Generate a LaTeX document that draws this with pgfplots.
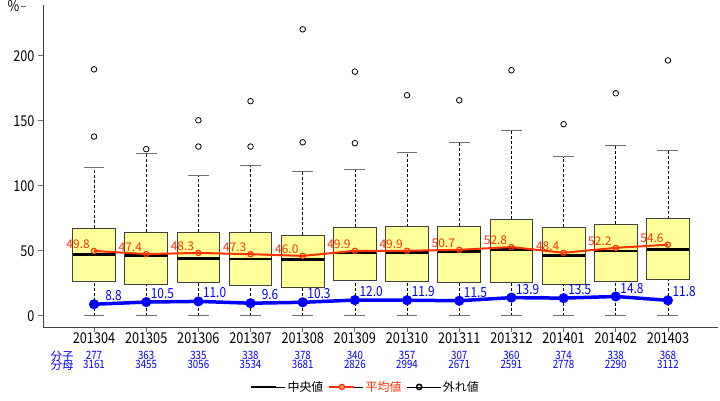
\documentclass[border=0pt]{standalone}
\usepackage{pgfplots}
\pgfplotsset{compat=1.18}
\usepgfplotslibrary{statistics}
\usepackage{fontspec}
\setmainfont{Noto Sans CJK JP}
\newfontfamily\jp{Noto Sans CJK JP}
\newfontfamily\jpn[FakeStretch=0.85]{Noto Sans CJK JP}

\definecolor{boxfill}{RGB}{255,255,153}
\definecolor{boxedge}{RGB}{64,64,64}
\definecolor{meanred}{RGB}{255,51,0}
\definecolor{meanfill}{RGB}{255,150,110}
\definecolor{ratioblue}{RGB}{0,0,255}
\definecolor{tickgray}{RGB}{110,110,110}

\pgfplotsset{
  boxplot/draw direction=y,
  boxplot/box extend=0.82,
  boxplot/whisker extend=0.40,
  boxplot/every box/.style={draw=boxedge, fill=boxfill, line width=0.9bp},
  boxplot/every median/.style={black, line width=2.6bp},
  boxplot/draw/lower whisker/.code={
    \draw[black, line width=0.7bp, dash pattern=on 3bp off 2bp]
      (boxplot box cs:\pgfplotsboxplotvalue{lower whisker},0.5) --
      (boxplot box cs:\pgfplotsboxplotvalue{lower quartile},0.5);
    \draw[tickgray, line width=0.9bp]
      (boxplot whisker cs:\pgfplotsboxplotvalue{lower whisker},0) --
      (boxplot whisker cs:\pgfplotsboxplotvalue{lower whisker},1);
  },
  boxplot/draw/upper whisker/.code={
    \draw[black, line width=0.7bp, dash pattern=on 3bp off 2bp]
      (boxplot box cs:\pgfplotsboxplotvalue{upper quartile},0.5) --
      (boxplot box cs:\pgfplotsboxplotvalue{upper whisker},0.5);
    \draw[tickgray, line width=0.9bp]
      (boxplot whisker cs:\pgfplotsboxplotvalue{upper whisker},0) --
      (boxplot whisker cs:\pgfplotsboxplotvalue{upper whisker},1);
  },
  monthbox/.style={mark=o, mark size=2.8bp,
    mark options={black, line width=0.8bp, solid}, forget plot},
}

\begin{document}
\begin{tikzpicture}
\begin{axis}[
  scale only axis,
  width=675bp, height=322bp,
  xmin=0.022, xmax=12.96,
  ymin=-8.7, ymax=239,
  axis x line*=bottom, axis y line*=left,
  axis line style={boxedge, line width=0.9bp},
  tick align=outside,
  major tick length=5bp,
  tick style={tickgray, line width=0.8bp},
  xtick={1,...,12},
  xticklabels={201304,201305,201306,201307,201308,201309,201310,201311,201312,201401,201402,201403},
  ytick={0,50,100,150,200},
  yticklabels={0,50,100,150,200},
  tick label style={font=\jpn\fontsize{15}{18}\selectfont, text=black},
  xticklabel style={yshift=3bp},
  extra x ticks={0.39,1,2,3,4,5,6,7,8,9,10,11,12},
  extra x tick labels={{\jp 分子\\[-3bp]\jp 分母},{277\\3161},{363\\3455},{335\\3056},{338\\3534},{378\\3681},{340\\2826},{357\\2994},{307\\2671},{360\\2591},{374\\2778},{338\\2290},{368\\3112}},
  extra x tick style={major tick length=0pt,
    xticklabel style={align=center, text=ratioblue,
      font=\jpn\fontsize{11.5}{9}\selectfont, yshift=-24bp}},
  legend columns=3,
  legend style={draw=none, fill=none, at={(0.478,-0.186)}, anchor=center,
    font=\jp\fontsize{12}{14}\selectfont,
    /tikz/every even column/.append style={column sep=3bp}},
]

\addplot[monthbox, boxplot prepared={draw position=1, lower whisker=0, lower quartile=26.4, median=46.9, upper quartile=67.4, upper whisker=114.2}]
  table[row sep=\\, y index=0] {data\\ 189.5\\ 137.8\\};
\addplot[monthbox, boxplot prepared={draw position=2, lower whisker=0, lower quartile=24.3, median=46.1, upper quartile=64.3, upper whisker=124.5}]
  table[row sep=\\, y index=0] {data\\ 128.1\\};
\addplot[monthbox, boxplot prepared={draw position=3, lower whisker=0, lower quartile=25.3, median=44.1, upper quartile=64.3, upper whisker=107.8}]
  table[row sep=\\, y index=0] {data\\ 150.3\\ 130.1\\};
\addplot[monthbox, boxplot prepared={draw position=4, lower whisker=0, lower quartile=23.6, median=43.5, upper quartile=64.0, upper whisker=115.5}]
  table[row sep=\\, y index=0] {data\\ 165.0\\ 130.1\\};
\addplot[monthbox, boxplot prepared={draw position=5, lower whisker=0, lower quartile=22.0, median=43.0, upper quartile=62.0, upper whisker=110.9}]
  table[row sep=\\, y index=0] {data\\ 220.3\\ 133.4\\};
\addplot[monthbox, boxplot prepared={draw position=6, lower whisker=0, lower quartile=26.9, median=48.2, upper quartile=67.9, upper whisker=112.7}]
  table[row sep=\\, y index=0] {data\\ 187.7\\ 132.7\\};
\addplot[monthbox, boxplot prepared={draw position=7, lower whisker=0, lower quartile=26.1, median=48.7, upper quartile=68.6, upper whisker=125.5}]
  table[row sep=\\, y index=0] {data\\ 169.6\\};
\addplot[monthbox, boxplot prepared={draw position=8, lower whisker=0, lower quartile=25.9, median=49.4, upper quartile=68.9, upper whisker=133.4}]
  table[row sep=\\, y index=0] {data\\ 165.7\\};
\addplot[monthbox, boxplot prepared={draw position=9, lower whisker=0, lower quartile=25.9, median=50.7, upper quartile=74.3, upper whisker=142.7}]
  table[row sep=\\, y index=0] {data\\ 188.8\\};
\addplot[monthbox, boxplot prepared={draw position=10, lower whisker=0, lower quartile=24.3, median=46.3, upper quartile=68.1, upper whisker=122.4}]
  table[row sep=\\, y index=0] {data\\ 147.3\\};
\addplot[monthbox, boxplot prepared={draw position=11, lower whisker=0, lower quartile=26.4, median=49.7, upper quartile=70.4, upper whisker=130.9}]
  table[row sep=\\, y index=0] {data\\ 171.1\\};
\addplot[monthbox, boxplot prepared={draw position=12, lower whisker=0, lower quartile=28.2, median=51.0, upper quartile=74.5, upper whisker=127.0}]
  table[row sep=\\, y index=0] {data\\ 196.4\\};

% mean
\addplot[meanred, line width=2bp, mark=o, mark size=2.6bp,
  mark options={line width=1.2bp, fill=meanfill}, forget plot,
  nodes near coords, point meta=explicit symbolic,
  nodes near coords align={anchor=south east},
  every node near coord/.append style={anchor=south east, inner sep=0pt,
    xshift=-3.7bp, yshift=1.5bp, font=\jp\fontsize{12}{14}\selectfont}]
  coordinates {(1,49.8)[49.8] (2,47.4)[47.4] (3,48.3)[48.3] (4,47.3)[47.3]
    (5,46.0)[46.0] (6,49.9)[49.9] (7,49.9)[49.9] (8,50.7)[50.7]
    (9,52.8)[52.8] (10,48.4)[48.4] (11,52.2)[52.2] (12,54.6)[54.6]};

% ratio
\addplot[ratioblue, line width=3.5bp, mark=*, mark size=3.2bp, forget plot,
  nodes near coords, point meta=explicit symbolic,
  nodes near coords align={anchor=south east},
  every node near coord/.append style={anchor=south east, inner sep=0pt,
    xshift=29.5bp, yshift=1.5bp, font=\jpn\fontsize{14}{16}\selectfont}]
  coordinates {(1,8.8)[8.8] (2,10.5)[10.5] (3,11.0)[11.0] (4,9.6)[9.6]
    (5,10.3)[10.3] (6,12.0)[12.0] (7,11.9)[11.9] (8,11.5)[11.5]
    (9,13.9)[13.9] (10,13.5)[13.5] (11,14.8)[14.8] (12,11.8)[11.8]};

\addlegendimage{legend image code/.code={\path (0bp,0bp) -- (34bp,0bp);
  \draw[black, line width=1.6bp] (0bp,0bp) -- (25bp,0bp);}}
\addlegendentry{中央値}
\addlegendimage{legend image code/.code={\path (0bp,0bp) -- (34bp,0bp);
  \draw[meanred, line width=2bp] (0bp,0bp) -- (25bp,0bp);
  \draw[meanred, line width=1.2bp, fill=meanfill] (12.5bp,0bp) circle (2.6bp);}}
\addlegendentry{\textcolor{meanred}{平均値}}
\addlegendimage{legend image code/.code={\path (0bp,0bp) -- (34bp,0bp);
  \draw[black, line width=1.5bp] (12.5bp,0bp) circle (2.6bp);}}
\addlegendentry{外れ値}
\end{axis}
\node[font=\jpn\fontsize{15}{18}\selectfont, anchor=center] at (-29.5bp,320.5bp) {\%};
\draw[tickgray, line width=0.8bp] (-22bp,321bp) -- (-17bp,321bp);
\pgfresetboundingbox
\path[use as bounding box] (-43bp,-74bp) rectangle (677bp,327bp);
\end{tikzpicture}
\end{document}
